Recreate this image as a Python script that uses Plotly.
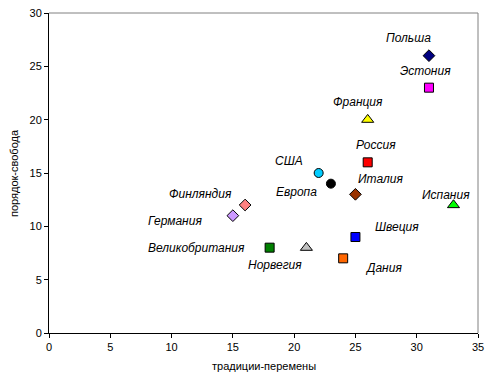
import plotly.graph_objects as go

countries = ["Польша", "Эстония", "Франция", "Россия", "США", "Европа", "Италия",
             "Испания", "Швеция", "Дания", "Финляндия", "Германия", "Великобритания", "Норвегия"]
x_vals = [31, 31, 26, 26, 22, 23, 25, 33, 25, 24, 16, 15, 18, 21]
y_vals = [26, 23, 20, 16, 15, 14, 13, 12, 9, 7, 12, 11, 8, 8]

symbols = ["diamond", "square", "triangle-up", "square", "circle", "circle", "diamond",
           "triangle-up", "square", "square", "diamond", "diamond", "square", "triangle-up"]
colors = ["#000080", "#FF00FF", "#FFFF00", "#FF0000", "#00CCFF", "#000000", "#993300",
          "#00FF00", "#0000FF", "#FF6600", "#FF8080", "#CC99FF", "#008000", "#C0C0C0"]
sizes = [9, 9, 10.5, 9, 9, 9, 9, 10.5, 9, 9, 9, 9, 9, 10.5]
# label offsets in pixels (right, up)
label_dx = [-20, -3, -10, 8, -30, -34, 25, -7, 42, 40, -45, -58, -73, -31]
label_dy = [18, 17, 18, 17, 12, -8, 15, 10, 10, -10, 11, -5, 0, -17]

fig = go.Figure()
for i, c in enumerate(countries):
    fig.add_trace(go.Scatter(
        x=[x_vals[i]], y=[y_vals[i]], mode="markers", name=c,
        marker=dict(symbol=symbols[i], color=colors[i], size=sizes[i],
                    line=dict(color="#000000", width=1)),
        showlegend=False, hoverinfo="skip"))
    fig.add_annotation(x=x_vals[i], y=y_vals[i], text="<i>" + c + "</i>", showarrow=False,
                       xshift=label_dx[i], yshift=label_dy[i],
                       font=dict(family="Liberation Sans, Arial", size=12, color="#000000"))

# gray plot-area border (top, right)
fig.add_shape(type="line", xref="paper", yref="paper", x0=0, x1=1, y0=1, y1=1,
              line=dict(color="#808080", width=1))
fig.add_shape(type="line", xref="paper", yref="paper", x0=1, x1=1, y0=0, y1=1,
              line=dict(color="#808080", width=1))

# axis titles
fig.add_annotation(xref="paper", yref="paper", x=0.5, y=0, yshift=-33, yanchor="middle",
                   text="традиции-перемены", showarrow=False,
                   font=dict(family="Liberation Sans, Arial", size=11, color="#000000"))
fig.add_annotation(xref="paper", yref="paper", x=0, y=0.5, xshift=-35, xanchor="center",
                   text="порядок-свобода", showarrow=False, textangle=-90,
                   font=dict(family="Liberation Sans, Arial", size=11, color="#000000"))

fig.update_layout(
    width=493, height=380,
    margin=dict(l=49, r=15, t=13, b=47, autoexpand=False),
    paper_bgcolor="#FFFFFF", plot_bgcolor="#FFFFFF",
    font=dict(family="Liberation Sans, Arial", size=11, color="#000000"),
    xaxis=dict(range=[0, 35], dtick=5, tick0=0, showgrid=False, zeroline=False,
               showline=True, linecolor="#000000", linewidth=1, automargin=False,
               ticks="outside", ticklen=4, tickcolor="#000000"),
    yaxis=dict(range=[0, 30], dtick=5, tick0=0, showgrid=False, zeroline=False,
               showline=True, linecolor="#000000", linewidth=1, automargin=False,
               ticks="outside", ticklen=4, tickcolor="#000000"),
)

fig.write_html("out.html", config={"displayModeBar": False},
               post_script="document.body.style.margin='0';document.body.style.padding='0';")
